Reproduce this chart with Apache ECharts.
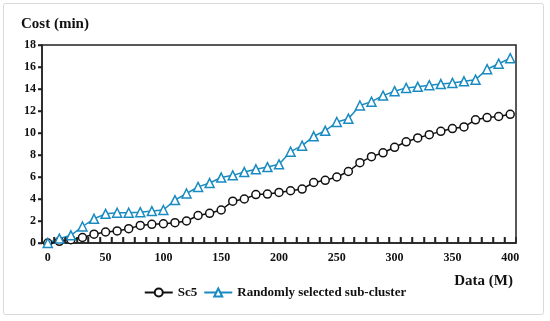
<!DOCTYPE html>
<html>
<head>
<meta charset="utf-8">
<script src="https://cdn.jsdelivr.net/npm/echarts@6/dist/echarts.min.js"></script>
<style>html,body{margin:0;padding:0;background:#fff}#c{width:550px;height:321px}</style>
</head>
<body>
<div id="c"></div>
<script>
const categories = [0,10,20,30,40,50,60,70,80,90,100,110,120,130,140,150,160,170,180,190,200,210,220,230,240,250,260,270,280,290,300,310,320,330,340,350,360,370,380,390,400];
const sc5 = [0,0.15,0.3,0.5,0.8,1.0,1.1,1.3,1.6,1.7,1.75,1.85,2.0,2.5,2.7,3.0,3.8,4.0,4.4,4.45,4.6,4.75,4.9,5.5,5.7,6.0,6.5,7.3,7.85,8.2,8.7,9.2,9.55,9.85,10.15,10.4,10.55,11.2,11.4,11.5,11.7];
const randomSub = [0,0.4,0.7,1.5,2.2,2.65,2.75,2.75,2.8,2.9,3.0,3.9,4.5,5.1,5.45,5.95,6.15,6.45,6.7,6.9,7.15,8.3,8.85,9.7,10.2,11.0,11.3,12.5,12.85,13.4,13.8,14.1,14.2,14.35,14.45,14.55,14.7,14.85,15.8,16.3,16.8];
const yTicks = [0,2,4,6,8,10,12,14,16,18];
const seriesNames = ['Sc5','Randomly selected sub-cluster'];
const yTitle = 'Cost (min)';
const xTitle = 'Data (M)';

const font = '"Liberation Serif","Times New Roman",serif';
const chart = echarts.init(document.getElementById('c'), null, {renderer:'canvas'});
const baseGraphic = [
  {type:'rect', shape:{x:3.5,y:3.5,width:540,height:311,r:2}, style:{fill:'none',stroke:'#d9d9d9',lineWidth:1}, silent:true, z:-10},
  {type:'text', left:21, top:17, style:{text:yTitle, font:'bold 15px '+font, fill:'#111'}},
  {type:'text', right:37, top:274, style:{text:xTitle, font:'bold 15px '+font, fill:'#111'}}
];
chart.setOption({
  animation:false,
  backgroundColor:'#fff',
  graphic:baseGraphic,
  grid:{left:42,right:34,top:45,bottom:78,show:true,borderColor:'#222',borderWidth:1.5,backgroundColor:'transparent'},
  legend:{
    bottom:17, left:'center', itemWidth:28, itemHeight:10, itemGap:6,
    textStyle:{fontFamily:font,fontWeight:'bold',fontSize:13,color:'#111'},
    data:seriesNames
  },
  xAxis:{
    type:'category', data:categories, boundaryGap:true,
    axisLine:{show:true,lineStyle:{color:'#222',width:1.5}},
    axisTick:{show:true,inside:true,length:6,interval:0,lineStyle:{color:'#222',width:1.5}},
    axisLabel:{interval:4,margin:9,fontFamily:font,fontWeight:'bold',fontSize:12,color:'#111'},
    splitLine:{show:false}
  },
  yAxis:{
    type:'value', min:0, max:18, interval:2,
    axisLine:{show:true,lineStyle:{color:'#222',width:1.5}},
    axisTick:{show:true,length:4,lineStyle:{color:'#222',width:1.5}},
    axisLabel:{margin:6,fontFamily:font,fontWeight:'bold',fontSize:12,color:'#111'},
    splitLine:{show:false}
  },
  series:[
    {name:seriesNames[0], type:'line', data:sc5, symbol:'circle', symbolSize:8, showSymbol:true, showAllSymbol:true,
     lineStyle:{color:'#111',width:1.5},
     itemStyle:{color:'#fff',borderColor:'#111',borderWidth:1.5}, color:'#111'},
    {name:seriesNames[1], type:'line', data:randomSub, symbol:'triangle', symbolSize:9, showSymbol:true, showAllSymbol:true,
     lineStyle:{color:'#1a8bc1',width:1.5},
     itemStyle:{color:'#fff',borderColor:'#1a8bc1',borderWidth:1.5}, color:'#1a8bc1'}
  ]
});
try {
  const x0 = chart.convertToPixel({xAxisIndex:0}, 0);
  const x1 = chart.convertToPixel({xAxisIndex:0}, 1);
  const bw = x1 - x0;
  const yBase = chart.convertToPixel({yAxisIndex:0}, 0);
  const tickMarks = [];
  if (isFinite(x0) && isFinite(bw) && isFinite(yBase)) {
    for (let i = 1; i < categories.length; i++) {
      const x = Math.round(x0 + (i - 0.5) * bw) + 0.5;
      tickMarks.push({type:'line', silent:true, z:50, shape:{x1:x,y1:yBase,x2:x,y2:yBase-6}, style:{stroke:'#222',lineWidth:1.5}});
    }
    const xl = x0 - bw / 2;
    yTicks.forEach(v => {
      const y = Math.round(chart.convertToPixel({yAxisIndex:0}, v)) + 0.5;
      tickMarks.push({type:'line', silent:true, z:50, shape:{x1:xl,y1:y,x2:xl-4,y2:y}, style:{stroke:'#222',lineWidth:1.5}});
    });
    chart.setOption({graphic: baseGraphic.concat(tickMarks)});
  }
} catch (e) {}
</script>
</body>
</html>
